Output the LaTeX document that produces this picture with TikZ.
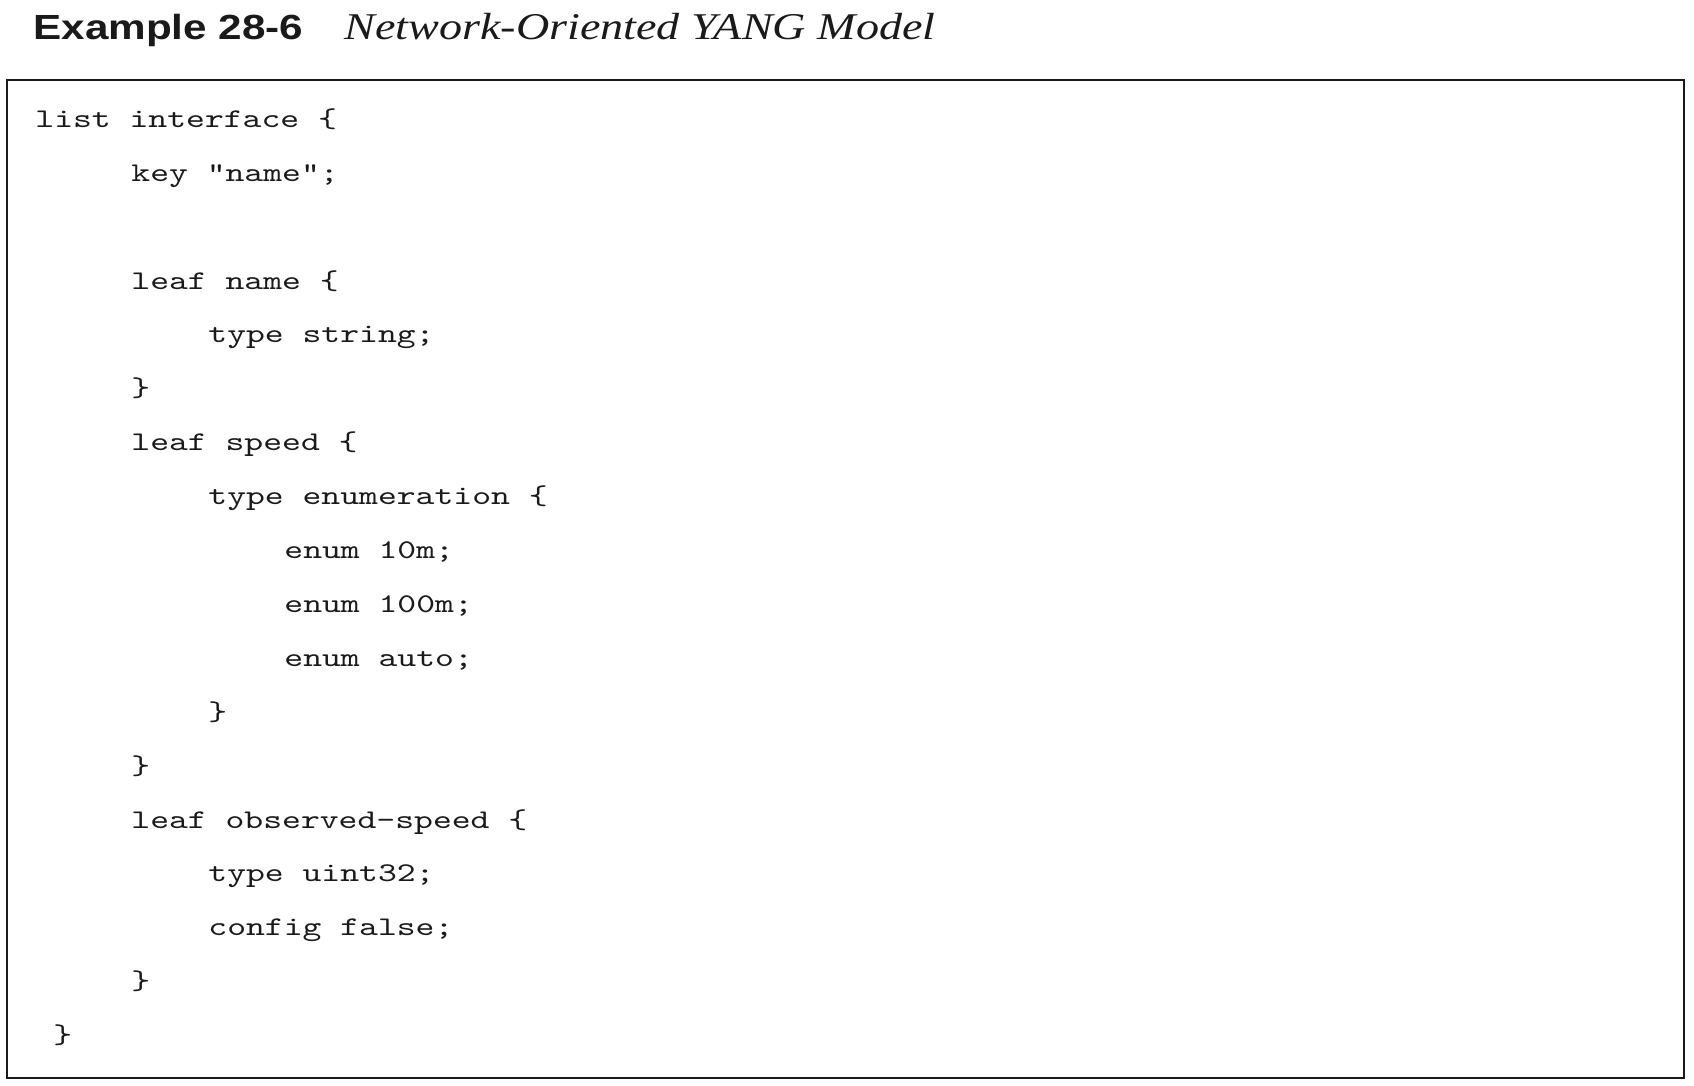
\documentclass[tikz,border=0pt]{standalone}
\usepackage{fontspec}
\newfontfamily\codefont{lmmono10-regular.otf}[FakeStretch=1.33]
\newfontfamily\headsans{Liberation Sans}[FakeStretch=1.21]
\newfontfamily\headserif{Liberation Serif}[FakeStretch=1.22]
\definecolor{ink}{HTML}{1A1A1A}
\begin{document}
\begin{tikzpicture}[x=0.5pt,y=-0.5pt,
  code/.style={anchor=base west,inner sep=0pt,text=ink,
    font=\codefont\fontsize{13.5pt}{16pt}\selectfont},
  frame/.style={draw=ink,line width=1.3pt}]
\useasboundingbox (0,0) rectangle (1694,1086);
% heading
\node[anchor=base west,inner sep=0pt,text=ink,
  font=\headsans\bfseries\fontsize{17.45pt}{20pt}\selectfont] (num) at (33,40) {Example 28-6};
\node[anchor=base west,inner sep=0pt,text=ink,
  font=\headserif\itshape\fontsize{18.9pt}{22pt}\selectfont] (title) at (344,40) {Network-Oriented YANG Model};
% listing
\draw[frame] (7,80) rectangle (1684,1078);
\node[code] (list) at (35,127.3) {list interface \{};
\node[code] (key) at (131,181.2) {key "name";};
\node[code] (lname) at (131,289.0) {leaf name \{};
\node[code] (tstr) at (208,342.9) {type string;};
\node[code] (cname) at (131,396.8) {\}};
\node[code] (lspeed) at (131,450.7) {leaf speed \{};
\node[code] (tenum) at (208,504.6) {type enumeration \{};
\node[code] (e10) at (284,558.5) {enum 10m;};
\node[code] (e100) at (284,612.4) {enum 100m;};
\node[code] (eauto) at (284,666.3) {enum auto;};
\node[code] (cenum) at (208,720.2) {\}};
\node[code] (cspeed) at (131,774.1) {\}};
\node[code] (lobs) at (131,828.0) {leaf observed-speed \{};
\node[code] (tuint) at (208,881.9) {type uint32;};
\node[code] (cfg) at (208,935.8) {config false;};
\node[code] (cobs) at (131,989.7) {\}};
\node[code] (clist) at (53,1043.6) {\}};
\end{tikzpicture}
\end{document}
